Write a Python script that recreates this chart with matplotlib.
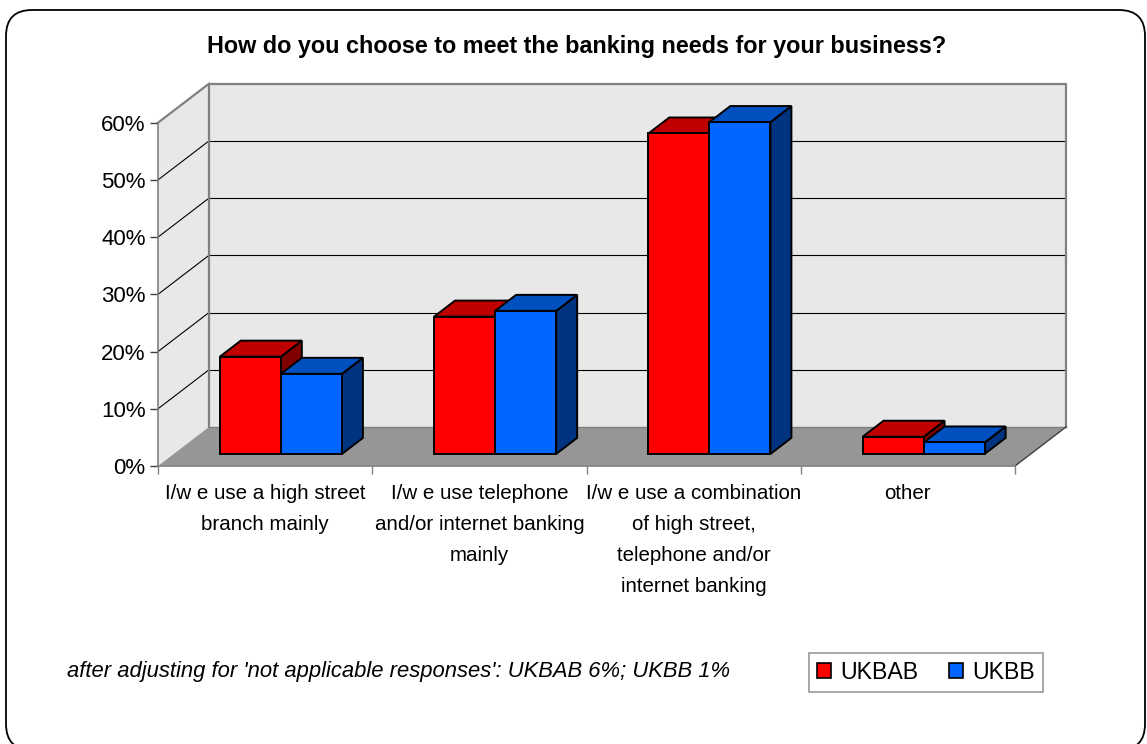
import matplotlib
matplotlib.use("Agg")
import matplotlib.pyplot as plt
from matplotlib.patches import Polygon, Patch, FancyBboxPatch
from matplotlib.transforms import IdentityTransform

plt.rcParams['font.family'] = ['Liberation Sans', 'DejaVu Sans']

# survey results (% of respondents)
categories = [
    "I/w e use a high street\nbranch mainly",
    "I/w e use telephone\nand/or internet banking\nmainly",
    "I/w e use a combination\nof high street,\ntelephone and/or\ninternet banking",
    "other",
]
ukbab = [17, 24, 56, 3]
ukbb = [14, 25, 58, 2]
series_names = ["UKBAB", "UKBB"]
y_ticks = [0, 10, 20, 30, 40, 50, 60]

# face colours: front, top, side
RED = ("#ff0000", "#c00000", "#800000")
BLUE = ("#0066ff", "#0050c0", "#003380")

# oblique depth offset (in category units / percent units)
DX, DY = 0.238, 6.82
Z0, Z1 = 0.31, 0.72      # bar depth span
BAR_W = 0.285


def proj(x, y, z):
    return (x + z * DX, y + z * DY)


fig = plt.figure(figsize=(11.47, 7.44), dpi=100)

# rounded chart-area border (pixel coordinates)
border = FancyBboxPatch((6, -6), 1139, 740, boxstyle="round,pad=0,rounding_size=26",
                        transform=IdentityTransform(), facecolor="none",
                        edgecolor="black", linewidth=1.3, zorder=-1)
fig.patches.append(border)

ax = fig.add_axes([158 / 1147, 1 - 466 / 744, 857 / 1147, 343.3 / 744])
ax.set_xlim(0, 4)
ax.set_ylim(0, 60)
ax.patch.set_visible(False)

n = len(categories)
ymax = y_ticks[-1]

# walls and floor
back = Polygon([proj(0, 0, 1), proj(n, 0, 1), proj(n, ymax, 1), proj(0, ymax, 1)],
               closed=True, facecolor="#e8e8e8", edgecolor="none", zorder=0, clip_on=False)
left = Polygon([proj(0, 0, 0), proj(0, 0, 1), proj(0, ymax, 1), proj(0, ymax, 0)],
               closed=True, facecolor="#e8e8e8", edgecolor="none", zorder=0, clip_on=False)
floor = Polygon([proj(0, 0, 0), proj(n, 0, 0), proj(n, 0, 1), proj(0, 0, 1)],
                closed=True, facecolor="#969696", edgecolor="none", zorder=1, clip_on=False)
for p in (back, left, floor):
    ax.add_patch(p)

# gridlines on back and side walls
for t in y_ticks[1:-1]:
    xs, ys = zip(proj(0, t, 1), proj(n, t, 1))
    ax.plot(xs, ys, color="black", lw=0.8, zorder=0.5, clip_on=False)
    xs, ys = zip(proj(0, t, 0), proj(0, t, 1))
    ax.plot(xs, ys, color="black", lw=0.8, zorder=0.5, clip_on=False)

# wall outlines
wall_edge = [proj(0, 0, 1), proj(0, ymax, 1), proj(n, ymax, 1), proj(n, 0, 1)]
xs, ys = zip(*wall_edge)
ax.plot(xs, ys, color="#808080", lw=1.6, zorder=0.6, clip_on=False)
xs, ys = zip(proj(0, ymax, 0), proj(0, ymax, 1))
ax.plot(xs, ys, color="#808080", lw=1.6, zorder=0.6, clip_on=False)
xs, ys = zip(proj(0, 0, 1), proj(n, 0, 1))
ax.plot(xs, ys, color="#808080", lw=1.0, zorder=1.1, clip_on=False)
xs, ys = zip(proj(n, 0, 0), proj(n, 0, 1))
ax.plot(xs, ys, color="#404040", lw=1.0, zorder=1.1, clip_on=False)


def draw_bar(x0, h, colors, z):
    x1 = x0 + BAR_W
    faces = [
        ([proj(x1, 0, Z0), proj(x1, 0, Z1), proj(x1, h, Z1), proj(x1, h, Z0)], colors[2]),
        ([proj(x0, h, Z0), proj(x1, h, Z0), proj(x1, h, Z1), proj(x0, h, Z1)], colors[1]),
        ([proj(x0, 0, Z0), proj(x1, 0, Z0), proj(x1, h, Z0), proj(x0, h, Z0)], colors[0]),
    ]
    for pts, c in faces:
        ax.add_patch(Polygon(pts, closed=True, facecolor=c, edgecolor="black",
                             linewidth=1.4, joinstyle="miter", zorder=z, clip_on=False))


zo = 3
for i in range(n):
    center = i + 0.5
    draw_bar(center - BAR_W, ukbab[i], RED, zo)
    draw_bar(center, ukbb[i], BLUE, zo + 1)
    zo += 2

# axes: left edge and front floor edge
for side in ("top", "right"):
    ax.spines[side].set_visible(False)
for side in ("left", "bottom"):
    ax.spines[side].set_color("#808080")
    ax.spines[side].set_linewidth(1.2)
    ax.spines[side].set_zorder(2)

ax.set_yticks(y_ticks)
ax.set_yticklabels([f"{t}%" for t in y_ticks], fontsize=16)
ax.tick_params(axis="y", length=6, width=1, color="#404040", pad=3)

ax.set_xticks(range(n + 1))
ax.set_xticklabels([])
ax.tick_params(axis="x", which="major", length=6, width=1, color="#808080")
ax.set_xticks([i + 0.5 for i in range(n)], minor=True)
ax.set_xticklabels(categories, minor=True, fontsize=14.8, linespacing=1.8, va="top")
ax.tick_params(axis="x", which="minor", length=0, pad=13)

fig.text(577 / 1147, 1 - 46 / 744,
         "How do you choose to meet the banking needs for your business?",
         ha="center", va="center", fontsize=16.8, fontweight="bold")

fig.text(67 / 1147, 1 - 671 / 744,
         "after adjusting for 'not applicable responses': UKBAB 6%; UKBB 1%",
         ha="left", va="center", fontsize=15.8, style="italic")

handles = [Patch(facecolor=RED[0], edgecolor="black", linewidth=1.2),
           Patch(facecolor=BLUE[0], edgecolor="black", linewidth=1.2)]
leg = fig.legend(handles, series_names, loc="center", ncol=2,
                 bbox_to_anchor=(926 / 1147, 1 - 672.5 / 744),
                 fontsize=16.7, frameon=True, fancybox=False, edgecolor="#808080",
                 handlelength=0.6, handleheight=0.6, handletextpad=0.4,
                 columnspacing=1.3, borderpad=0.35, borderaxespad=0)
leg.get_frame().set_linewidth(1.2)

fig.savefig("out.png", dpi=100)
